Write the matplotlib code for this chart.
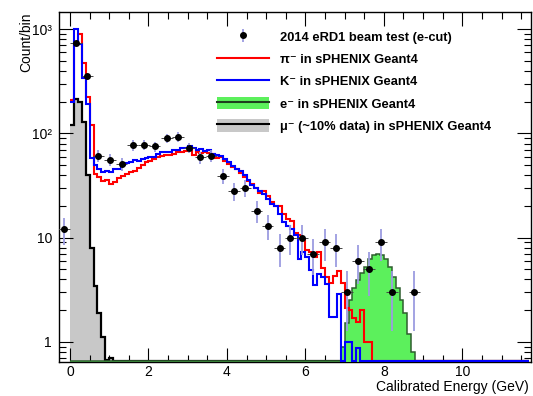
import numpy as np
import matplotlib
matplotlib.use("Agg")
import matplotlib.pyplot as plt
from matplotlib.lines import Line2D
from matplotlib.patches import Patch
from matplotlib.ticker import FixedLocator, MultipleLocator, LogLocator, NullFormatter, FuncFormatter

plt.rcParams['font.family'] = ['Liberation Sans', 'DejaVu Sans']

# ---------------- data ----------------
bin_width = 0.1
hist_start = 0.0
n_bins = 117

pion = [210, 700, 900, 480, 225, 120, 41, 38, 35, 36,
        33, 34, 37, 39, 41, 43, 44, 47, 50, 53,
        55, 57, 59, 61, 62, 62, 64, 66, 67, 68,
        70, 62, 66, 65, 67, 65, 63, 58, 60, 55,
        51, 48, 46, 42, 38, 35, 33, 30, 27, 28,
        25, 22, 20, 20, 17, 15, 14.5, 11, 10.5, 9.5,
        7.6, 7.3, 6.5, 7.3, 5.1, 4.2, 3.7, 4.3, 4.8, 3.7,
        2.1, 2.0, 1.7, 1.55, 2.0, 1.0, 1.0]

kaon = [200, 1000, 730, 340, 190, 58, 50, 46, 43, 44,
        43, 46, 46, 50, 52, 53, 56, 55, 57, 58,
        60, 59, 63, 66, 67, 66, 69, 70, 72, 73,
        76, 72, 70, 71, 68, 69, 64, 62, 61, 57,
        53, 49, 46, 44, 40, 36, 32, 30, 28, 26,
        23.5, 21, 20, 17, 14, 13, 12, 10.5, 6.3, 7.3,
        6.5, 4.9, 3.5, 4.5, 4.2, 3.6, 1.74, 1.74, 2.9, 0,
        1.0, 1.0, 0, 0.87]

electron = [0, 0, 0, 0, 0, 0, 0, 0, 0, 0,
            0, 0, 0, 0, 0, 0, 0, 0, 0, 0,
            0, 0, 0, 0, 0, 0, 0, 0, 0, 0,
            0, 0, 0, 0, 0, 0, 0, 0, 0, 0,
            0, 0, 0, 0, 0, 0, 0, 0, 0, 0,
            0, 0, 0, 0, 0, 0, 0, 0, 0, 0,
            0, 0, 0, 0, 0, 0, 0, 0, 0, 0.9,
            1.5, 2.5, 3.25, 3.9, 4.6, 5.2, 6.2, 6.8, 6.9, 6.8,
            6.2, 5.2, 4.2, 3.25, 2.5, 1.87, 1.2, 0.8]

muon = [120, 215, 200, 130, 40, 8, 3.4, 1.9, 1.1, 0.67, 0.7]

data_x = [-0.15, 0.15, 0.44, 0.72, 1.02, 1.32, 1.60, 1.89, 2.16, 2.47,
          2.75, 3.04, 3.32, 3.60, 3.90, 4.18, 4.47, 4.76, 5.04, 5.34,
          5.62, 5.91, 6.19, 6.49, 6.78, 7.06, 7.34, 7.62, 7.93, 8.21,
          8.78]
data_y = [12, 731, 356, 61, 56, 51, 77, 78, 75, 90,
          93, 73, 59, 61, 39, 28, 30, 18, 13, 8,
          10, 10, 7, 9, 8, 3, 6, 5, 9, 3,
          3]
data_xerr = 0.145

labels = ["2014 eRD1 beam test (e-cut)",
          "\u03c0\u207b in sPHENIX Geant4",
          "K\u207b in sPHENIX Geant4",
          "e\u207b in sPHENIX Geant4",
          "\u03bc\u207b (~10% data) in sPHENIX Geant4"]

xlim = (-0.28, 11.75)
ylim = (0.64, 1466)

# ---------------- figure ----------------
fig = plt.figure(figsize=(5.33, 3.96), dpi=100)
ax = fig.add_axes([59/533, 34/396, 472/533, 350/396])
ax.set_yscale('log')
ax.set_xlim(*xlim)
ax.set_ylim(*ylim)

edges = hist_start + bin_width * np.arange(n_bins + 1)
floor = ylim[0] * 1.012

def full(vals):
    v = np.zeros(n_bins)
    v[:len(vals)] = vals
    v = np.where(v <= 0, floor, v)
    return v

mu = full(muon)
el = full(electron)
pi = full(pion)
ka = full(kaon)

ax.stairs(mu, edges, baseline=0.3, fill=True, color='#c8c8c8', zorder=1)
ax.stairs(mu, edges, baseline=None, color='black', lw=1.6, zorder=2)
ax.stairs(el, edges, baseline=0.3, fill=True, color='#5cf05c', zorder=3)
ax.stairs(el, edges, baseline=None, color='#2e5e2e', lw=1.1, zorder=4)
ax.stairs(pi, edges, baseline=None, color='#ff0000', lw=1.5, zorder=5)
ax.stairs(ka, edges, baseline=None, color='#0000ff', lw=1.5, zorder=6)

dy = np.sqrt(np.array(data_y, dtype=float))
ax.errorbar(data_x, data_y, xerr=data_xerr, fmt='none', ecolor='#444444',
            elinewidth=0.7, capsize=0, zorder=7)
eb = ax.errorbar(data_x, data_y, yerr=dy, fmt='o', color='black', ms=4,
                 ecolor='#9c9ce0', elinewidth=1.3, capsize=0, zorder=8)

# ticks
ax.tick_params(which='both', direction='in', top=True, right=True,
               labelsize=10, width=0.8, colors='black')
ax.tick_params(which='major', length=10)
ax.tick_params(which='minor', length=5)
ax.tick_params(axis='x', pad=2.5)
ax.tick_params(axis='y', pad=5)
ax.xaxis.set_major_locator(FixedLocator([0, 2, 4, 6, 8, 10]))
ax.xaxis.set_minor_locator(MultipleLocator(0.5))
ax.yaxis.set_major_locator(FixedLocator([1, 10, 100, 1000]))
ax.yaxis.set_minor_locator(LogLocator(base=10, subs=np.arange(2, 10)))
ax.yaxis.set_minor_formatter(NullFormatter())
ylab = {1: '1', 10: '10', 100: '10\u00b2', 1000: '10\u00b3'}
ax.yaxis.set_major_formatter(FuncFormatter(lambda v, p: ylab.get(int(round(v)), '')))
for s in ax.spines.values():
    s.set_linewidth(1.0)

ax.set_ylabel('Count/bin', fontsize=10, loc='top')
ax.yaxis.set_label_coords(-0.055, 1.0)
ax.set_xlabel('Calibrated Energy (GeV)', fontsize=10, loc='right')
ax.xaxis.set_label_coords(0.996, -0.052)

handles = [eb,
           Line2D([], [], color='#ff0000', lw=1.5),
           Line2D([], [], color='#0000ff', lw=1.5),
           (Patch(facecolor='#5cf05c', edgecolor='none'), Line2D([], [], color='#1e3e1e', lw=1.5)),
           (Patch(facecolor='#c8c8c8', edgecolor='none'), Line2D([], [], color='black', lw=1.5))]
leg = ax.legend(handles, labels, loc='upper left', bbox_to_anchor=(0.335, 0.948),
                frameon=False, borderpad=0, borderaxespad=0,
                handlelength=4.0, handleheight=1.1, handletextpad=0.9,
                labelspacing=0.67, prop={'size': 9.3, 'weight': 'bold'})

fig.savefig('out.png', dpi=100)
